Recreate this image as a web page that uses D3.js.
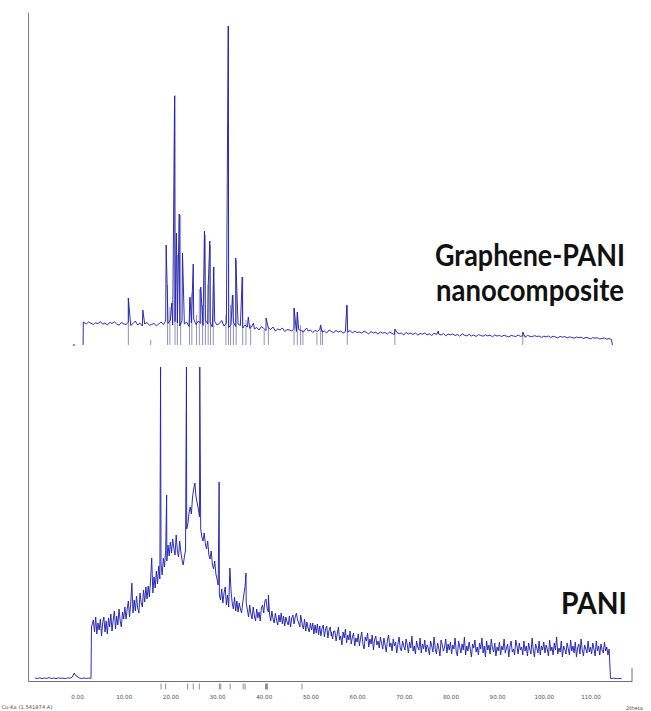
<!DOCTYPE html>
<html><head><meta charset="utf-8">
<script src="https://cdn.jsdelivr.net/npm/d3@7"></script>
<style>body{margin:0;background:#fff}svg{display:block}</style>
</head><body>
<svg id="chart" width="651" height="711"></svg>
<script>
// ---------- DATA ----------
const xTickValues = [0, 10, 20, 30, 40, 50, 60, 70, 80, 90, 100, 110];
const xAxisTitle = "2theta";
const anodeLabel = "Cu-Ka (1.541874 A)";
const seriesLabels = ["Graphene-PANI", "nanocomposite", "PANI"];

// Graphene-PANI nanocomposite: background counts on a regular 2θ grid
const compositeStart = 1.5, compositeStep = 0.5;
const compositeCounts = [
  225,212,230,218,205,222,214,235,208,220,200,226,215,232,210,198,224,212,
  205,228,196,214,240,200,218,190,210,225,198,206,215,192,
  210,230,205,240,215,250,200,235,220,190,245,210,230,185,220,260,205,240,215,195,
  250,210,225,180,235,200,215,245,190,220,175,205,230,185,210,195,170,200,180,165,
  190,160,175,150,185,165,145,170,155,180,140,160,150,170,135,155,
  150,140,165,135,155,145,130,160,140,150,125,145,135,155,130,140,120,150,135,125,
  145,130,140,118,135,128,145,122,138,125,
  130,118,140,125,112,135,120,128,108,132,118,125,110,130,115,105,128,112,120,100,
  125,110,118,105,122,98,115,108,120,102,112,95,118,105,110,100,115,92,108,102,
  110,95,105,88,112,98,92,106,90,100,85,104,95,88,102,92,98,82,100,90,
  95,85,98,88,80,96,90,84,100,86,92,78,95,88,82,94,85,90,76,88,
  82,90,75,88,80,72,86,78,84,70,82,75,68,80,74,78,65,76,70,62,
  74,68,72,60,66,70,58,64,55
];
const compositeEdges = [[1.3, 0], [1.35, 230], [114.7, 0]];
const compositeLead = [[-0.9, 0], [-0.4, 0]];
// sharp reflections of the composite [2θ, counts]
const compositePeaks = [
  [11.0,470],[14.1,350],[19.1,1000],[20.3,420],[20.9,2490],[21.3,1120],[21.9,1310],
  [22.6,920],[24.2,480],[24.9,810],[26.5,580],[27.3,1140],[28.1,580],[28.45,1040],
  [29.3,780],[32.4,3190],[33.3,500],[34.0,870],[35.4,680],[36.7,280],[37.8,220],
  [40.5,270],[46.5,370],[47.2,330],[49.2,170],[52.2,200],[57.8,400],[68.1,160],
  [77.4,140],[95.5,130]
];
// reference pattern sticks for the composite [2θ, relative height]
const compositeSticks = [
  [11.0,470],[15.8,50],[19.4,600],[19.9,380],[21.0,2500],[21.5,900],[22.2,1300],
  [24.1,470],[24.6,520],[25.6,300],[26.2,560],[26.9,400],[27.5,1100],[28.1,600],
  [28.6,1000],[29.2,760],[31.9,300],[32.45,3190],[32.9,400],[33.5,500],[34.1,850],
  [35.5,680],[36.2,250],[37.2,200],[40.1,150],[41.0,180],[46.5,360],[47.2,320],
  [47.9,200],[48.4,150],[51.4,120],[52.2,190],[52.6,150],[57.9,390],[68.1,150],
  [95.5,120]
];

// PANI
const paniLead = [
  [-9.0,10],[-8.5,5],[-8.0,12],[-7.5,4],[-7.0,10],[-6.5,6],[-6.0,14],[-5.5,5],
  [-5.0,10],[-4.5,3],[-4.0,12],[-3.5,6],[-3.0,9],[-2.5,4],[-2.0,11],[-1.5,8],
  [-1.0,20],[-0.6,60],[-0.3,35],[0.2,20],[0.6,8],[1.0,5],[1.5,10],[2.0,6],
  [2.5,9],[3.0,8],[3.1,520]
];
const paniStart = 3.5, paniStep = 0.25;
const paniCounts = [
  590,470,620,450,560,490,600,
  430,560,620,470,580,450,610,520,650,480,590,680,500,630,540,700,580,520,670,600,
  720,600,700,780,620,750,960,660,790,680,830,710,660,860,760,720,890,770,920,800,
  930,820,980,1210,860,1020,910,1080,950,1130,1000,1150,1040,1210,1120,1290,1180,1340,1230,1370,
  1260,1400,1310,1240,1440,1280,1220,1380,1270,1190,1140,1220,1290,1500,1550,1660,1720,1650,1820,1900,
  1960,1820,1760,1700,1620,1500,1420,1380,1460,1350,1300,1380,1240,1200,1280,1150,1100,1180,1050,1000,
  940,840,790,900,760,860,920,740,840,720,1110,880,760,700,820,680,780,670,760,700,
  660,760,850,920,760,690,620,740,650,600,720,630,580,700,610,670,580,710,740,660,
  780,800,700,670,650,580,680,600,560,660,590,540,640,570,660,550,630,530,620,570,
  540,630,520,610,640,550,620,660,590,560,520,620,540,500,600,480,570,510,470,560,
  490,560,450,540,460,550,440,530,430,510,540,420,500,530,410,490,520,430,400,480,
  480,380,450,520,390,430,340,470,410,500,360,440,390,480,350,420,460,330,410,370,
  450,330,410,470,350,300,420,380,460,320,400,350,440,290,390,430,340,380,310,420,
  360,300,410,340,270,390,440,320,360,280,400,330,370,260,350,420,310,280,380,330,
  290,400,340,260,370,310,430,280,330,250,380,320,290,410,260,350,300,390,270,340,
  310,240,380,330,270,420,300,250,360,310,230,390,340,280,320,400,260,350,290,370,
  250,340,300,410,270,230,380,320,260,350,290,420,240,330,280,370,300,220,350,310,
  390,270,320,240,360,300,410,260,330,220,380,290,340,250,400,310,270,360,230,320,
  280,370,240,330,290,400,260,310,350,220,320,380,270,300,240,390,330,250,360,290,
  320,240,380,280,330,230,360,300,250,410,290,220,350,310,260,380,240,330,290,370,
  260,340,300,230,390,280,320,240,360,290,420,250,310,270,380,220,330,300,250,360,
  300,240,390,280,330,260,370,220,310,350,250,400,290,230,340,300,260,380,270,320,
  250,360,300,230,380,280,330,240,350,290,260,370,280,320,240,300
];
const paniTail = [[114.3,5],[115.0,8],[115.8,4],[116.7,6]];
const paniPeaks = [
  [17.9,3120],[19.2,1840],[23.45,3120],[26.3,3120],[30.45,1970],
  [36.2,1060],[41.0,840],[47.9,640],[54.5,470]
];
// reference pattern ticks below the axis for PANI (2θ)
const paniSticks = [18.0,19.0,23.7,24.9,26.2,30.5,30.8,32.8,35.6,36.0,40.4,40.6,40.8,48.2];

// ---------- BUILD SERIES ----------
function gridSeries(start, step, counts) {
  return counts.map((c, i) => [start + i * step, c]);
}
function merge(...parts) {
  return [].concat(...parts).sort((a, b) => a[0] - b[0]);
}
const compositeSeries = merge(gridSeries(compositeStart, compositeStep, compositeCounts), compositeEdges, compositePeaks);
const paniSeries = merge(paniLead, gridSeries(paniStart, paniStep, paniCounts), paniPeaks, paniTail);

// ---------- DRAW ----------
const svg = d3.select("#chart");
const x = d3.scaleLinear().domain([-10.5, 118.9]).range([28, 632]);
const yUpper = d3.scaleLinear().domain([0, 3190]).range([345, 26]);
const yLower = d3.scaleLinear().domain([0, 3120]).range([679, 367]);
const yFrame = d3.scaleLinear().domain([0, 1]).range([681, 12]);

const lineColor = "#2323b0";
const stickColor = "#8585b5";

// composite sticks (behind)
svg.append("g").selectAll("line").data(compositeSticks).join("line")
  .attr("x1", d => x(d[0])).attr("x2", d => x(d[0]))
  .attr("y1", yUpper(0)).attr("y2", d => yUpper(d[1]))
  .attr("stroke", stickColor).attr("stroke-width", 0.9);

const lineU = d3.line().x(d => x(d[0])).y(d => yUpper(d[1]));
const lineL = d3.line().x(d => x(d[0])).y(d => yLower(d[1]));

svg.append("path").datum(compositeLead).attr("d", lineU)
  .attr("fill", "none").attr("stroke", lineColor).attr("stroke-width", 1);
svg.append("path").datum(compositeSeries).attr("d", lineU)
  .attr("fill", "none").attr("stroke", lineColor).attr("stroke-width", 0.95)
  .attr("stroke-linejoin", "round");

svg.append("path").datum(paniSeries).attr("d", lineL)
  .attr("fill", "none").attr("stroke", lineColor).attr("stroke-width", 0.95)
  .attr("stroke-linejoin", "round");

// PANI reference ticks under the axis
svg.append("g").selectAll("line").data(paniSticks).join("line")
  .attr("x1", d => x(d)).attr("x2", d => x(d))
  .attr("y1", 683.5).attr("y2", 689.5)
  .attr("stroke", "#6b6ba5").attr("stroke-width", 0.8);

// axes
const xAxis = d3.axisBottom(x).tickValues(xTickValues).tickFormat(d3.format(".2f"))
  .tickSize(0).tickSizeOuter(0).tickPadding(14);
const gx = svg.append("g").attr("transform", "translate(0,681)").call(xAxis);
gx.select(".domain").attr("stroke", "#707070").attr("stroke-width", 1);
gx.selectAll("text").attr("font-family", "DejaVu Sans, sans-serif")
  .attr("font-size", 5.6).attr("fill", "#505050");

const yAxis = d3.axisLeft(yFrame).tickValues([]).tickSizeOuter(0);
const gy = svg.append("g").attr("transform", "translate(28,0)").call(yAxis);
gy.select(".domain").attr("stroke", "#808080").attr("stroke-width", 1);

// right end tick
svg.append("line").attr("x1", x(118.9)).attr("x2", x(118.9))
  .attr("y1", 668).attr("y2", 681).attr("stroke", "#707070");

svg.append("text").attr("x", 1.5).attr("y", 709).text(anodeLabel)
  .attr("font-family", "DejaVu Sans, sans-serif").attr("font-size", 5.2).attr("fill", "#505050");
svg.append("text").attr("x", 626).attr("y", 709.5).text(xAxisTitle)
  .attr("font-family", "DejaVu Sans, sans-serif").attr("font-size", 5.2).attr("fill", "#505050");

// series labels
const lab = [
  {t: seriesLabels[0], x: 435, y: 266, w: 190},
  {t: seriesLabels[1], x: 436, y: 301, w: 188},
  {t: seriesLabels[2], x: 561, y: 614, w: 66}
];
svg.append("g").selectAll("text").data(lab).join("text")
  .attr("x", d => d.x).attr("y", d => d.y).text(d => d.t)
  .attr("textLength", d => d.w).attr("lengthAdjust", "spacingAndGlyphs")
  .attr("font-family", "Lato, 'Open Sans', sans-serif").attr("font-weight", 700)
  .attr("font-size", 29.5).attr("fill", "#111");
</script>
</body></html>
